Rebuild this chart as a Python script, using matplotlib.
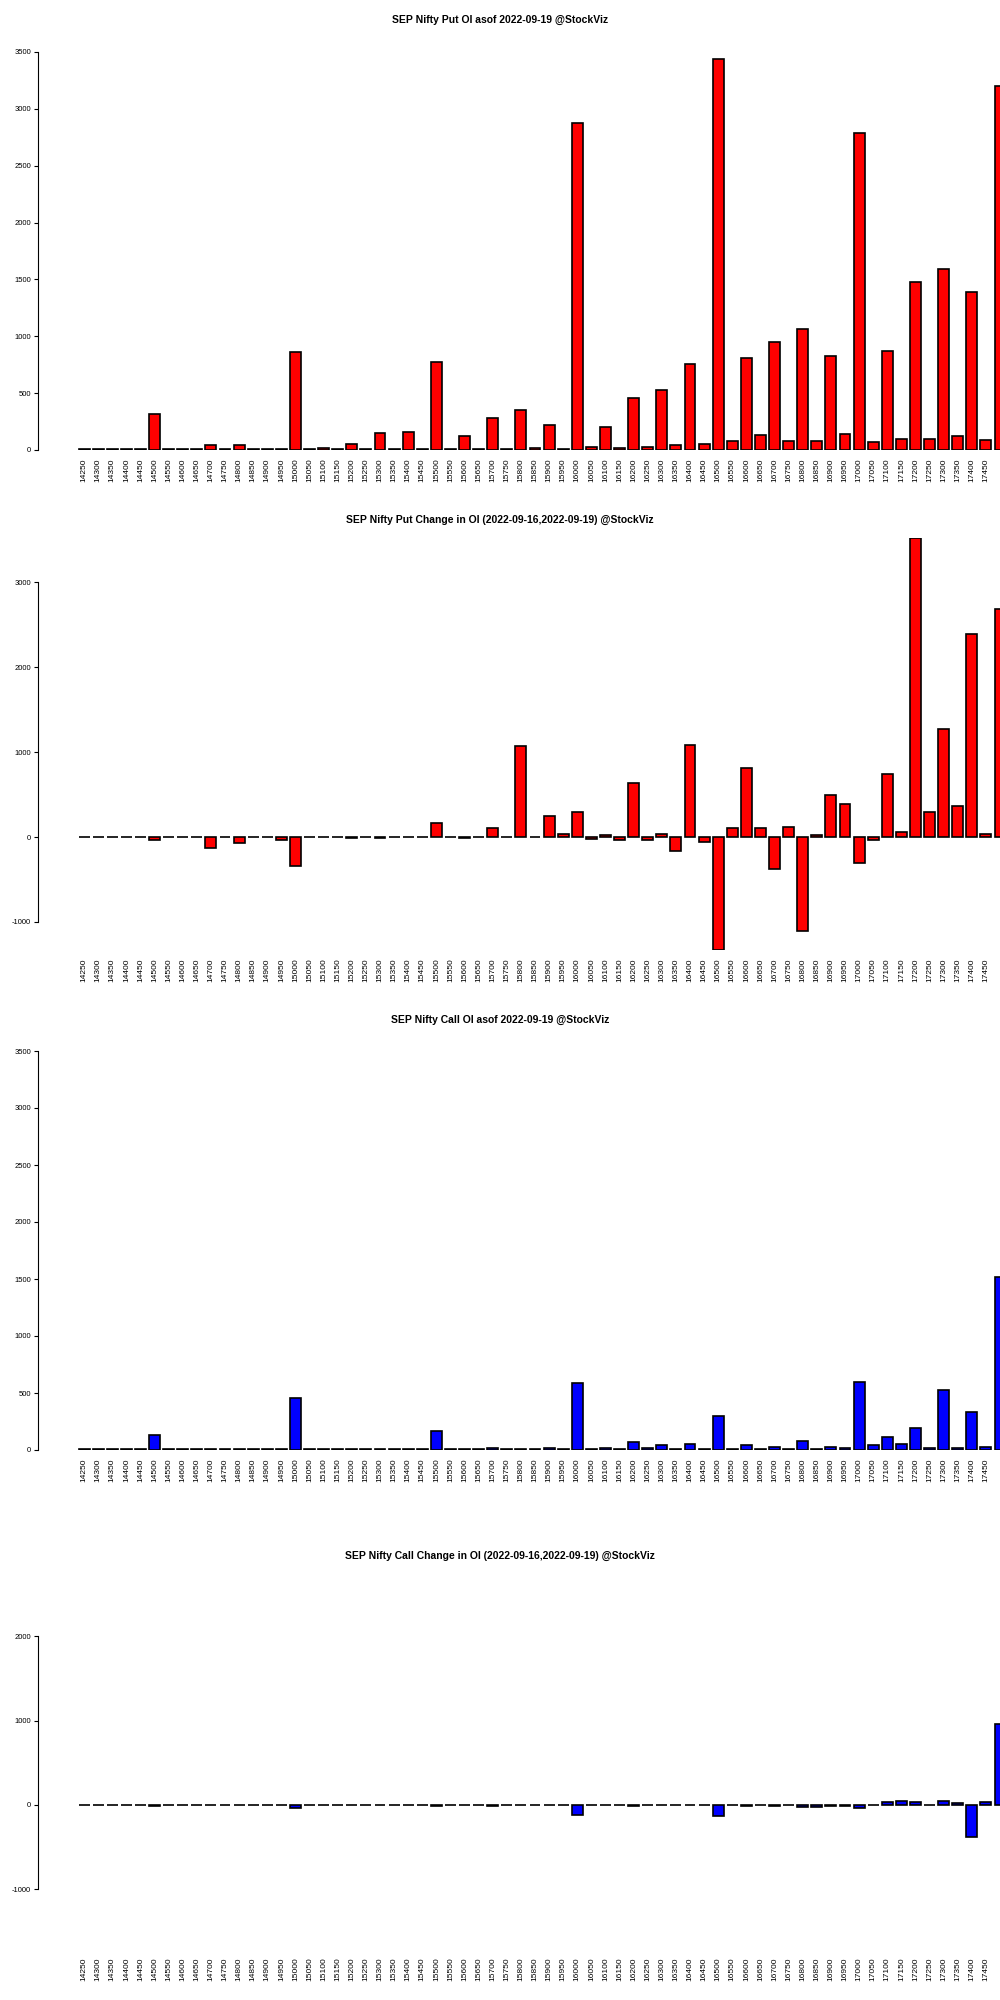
import matplotlib
matplotlib.use("Agg")
import matplotlib.pyplot as plt
import numpy as np

plt.rcParams["font.family"] = ["Liberation Sans", "DejaVu Sans"]

strikes = list(range(14250, 17550, 50))
put_oi = [5,10,5,10,5,320,5,10,5,40,5,40,5,10,5,860,5,20,10,50,5,150,10,160,5,770,10,120,5,280,10,350,15,220,10,2880,30,200,20,460,30,530,40,760,50,3440,80,810,130,950,80,1060,80,830,140,2790,70,870,100,1480,100,1590,120,1390,90,3200]
put_chg = [0,0,0,0,0,-30,0,0,0,-130,0,-70,0,0,-40,-340,0,0,0,-10,0,-10,0,0,0,160,0,-10,0,110,0,1070,0,250,30,290,-20,20,-30,640,-40,40,-160,1080,-60,-1330,110,810,110,-380,120,-1110,20,500,390,-310,-40,740,60,3520,290,1270,360,2390,40,2690]
call_oi = [5,5,5,5,5,130,5,5,5,5,5,5,5,5,5,460,5,5,5,5,5,10,5,10,5,170,5,10,5,15,5,10,5,15,5,590,5,20,5,70,20,40,5,50,5,300,5,40,5,30,5,80,5,30,20,600,40,110,50,190,20,530,20,330,30,1520]
call_chg = [0,0,0,0,0,-10,0,0,0,0,0,0,0,0,0,-40,0,0,0,0,0,0,0,0,0,-10,0,0,0,-10,0,0,0,0,0,-120,0,0,0,-10,0,0,0,0,0,-130,0,-10,0,-10,0,-20,-20,-15,-10,-40,0,30,50,30,0,50,20,-380,30,960]
labels = [str(s) for s in strikes[:-1]] + [""]

titles = ["SEP Nifty Put OI asof 2022-09-19 @StockViz",
          "SEP Nifty Put Change in OI (2022-09-16,2022-09-19) @StockViz",
          "SEP Nifty Call OI asof 2022-09-19 @StockViz",
          "SEP Nifty Call Change in OI (2022-09-16,2022-09-19) @StockViz"]
series = [put_oi, put_chg, call_oi, call_chg]
colors = ["#ff0000", "#ff0000", "#0000ff", "#0000ff"]
boxes = [(0.775, 0.974), (0.525, 0.731), (0.275, 0.4745), (0.0255, 0.206)]
ylims = [(0, 3500), (-1330, 3520), (0, 3500), (-1712, 2575)]
yticks = [[0,500,1000,1500,2000,2500,3000,3500], [-1000,0,1000,2000,3000],
          [0,500,1000,1500,2000,2500,3000,3500], [-1000,0,1000,2000]]
title_y = [0.990, 0.740, 0.490, 0.222]

fig = plt.figure(figsize=(10, 20), dpi=100)
x = np.arange(len(strikes))
for i in range(4):
    b, t = boxes[i]
    ax = fig.add_axes([0.07, b, 0.93, t - b])
    ax.bar(x, series[i], width=0.78, color=colors[i], edgecolor="black", linewidth=1.2)
    ax.set_xlim(-1.0, 64.7)
    ax.set_ylim(*ylims[i])
    ax.set_yticks(yticks[i])
    ax.set_yticklabels([str(v) for v in yticks[i]])
    ax.set_xticks(x)
    ax.set_xticklabels(labels, rotation=90)
    ax.tick_params(axis="x", length=0, pad=6, labelsize=6)
    ax.tick_params(axis="y", length=3, pad=2, labelsize=5.5)
    for s in ["top", "right", "bottom"]:
        ax.spines[s].set_visible(False)
    ax.spines["left"].set_bounds(yticks[i][0], yticks[i][-1])
    ax.spines["left"].set_position(("outward", 23))
    fig.text(0.5, title_y[i], titles[i], ha="center", va="center", fontsize=7.5, fontweight="bold")

fig.savefig("out.png")
